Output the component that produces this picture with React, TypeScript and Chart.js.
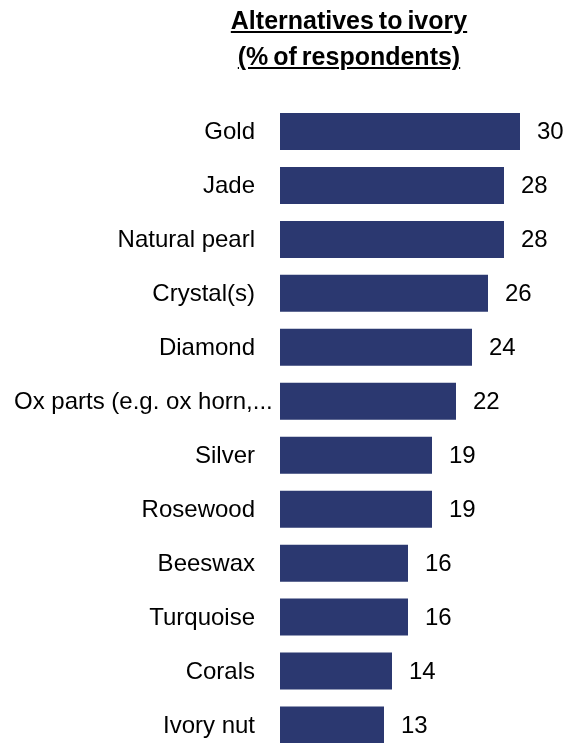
import React, { useEffect, useRef } from "react";
import { Chart, registerables } from "chart.js";

Chart.register(...registerables);

const titleLines = ["Alternatives to ivory", "(% of respondents)"];
const categories = [
  "Gold",
  "Jade",
  "Natural pearl",
  "Crystal(s)",
  "Diamond",
  "Ox parts (e.g. ox horn,...",
  "Silver",
  "Rosewood",
  "Beeswax",
  "Turquoise",
  "Corals",
  "Ivory nut",
];
const values = [30, 28, 28, 26, 24, 22, 19, 19, 16, 16, 14, 13];

const BAR_COLOR = "#2B3870";
const FONT = "'Liberation Sans', Arial, sans-serif";

// Category labels: right-aligned next to the axis; labels too long for the
// label column start at the column's left edge (Excel-style overflow).
const categoryLabelPlugin = {
  id: "categoryLabels",
  afterDraw(chart: any) {
    const ctx = chart.ctx;
    const yScale = chart.scales.y;
    const gap = 25;
    const colLeft = 14;
    const rightEdge = chart.chartArea.left - gap;
    ctx.save();
    ctx.font = `24px ${FONT}`;
    ctx.fillStyle = "#000000";
    ctx.textBaseline = "middle";
    categories.forEach((label, i) => {
      const y = yScale.getPixelForValue(i) + 1;
      const w = ctx.measureText(label).width;
      if (w > rightEdge - colLeft) {
        ctx.textAlign = "left";
        ctx.fillText(label, colLeft, y);
      } else {
        ctx.textAlign = "right";
        ctx.fillText(label, rightEdge, y);
      }
    });
    ctx.restore();
  },
};

const valueLabelPlugin = {
  id: "valueLabels",
  afterDatasetsDraw(chart: any) {
    const ctx = chart.ctx;
    const meta = chart.getDatasetMeta(0);
    ctx.save();
    ctx.font = `24px ${FONT}`;
    ctx.fillStyle = "#000000";
    ctx.textAlign = "left";
    ctx.textBaseline = "middle";
    meta.data.forEach((bar: any, i: number) => {
      ctx.fillText(String(values[i]), bar.x + 17, bar.y + 1);
    });
    ctx.restore();
  },
};

export default function App() {
  const canvasRef = useRef<HTMLCanvasElement | null>(null);

  useEffect(() => {
    if (!canvasRef.current) return;
    const chart = new Chart(canvasRef.current, {
      type: "bar",
      data: {
        labels: categories,
        datasets: [
          {
            data: values,
            backgroundColor: BAR_COLOR,
            borderWidth: 0,
            barPercentage: 0.685,
            categoryPercentage: 1,
          },
        ],
      },
      options: {
        indexAxis: "y",
        animation: false,
        responsive: false,
        maintainAspectRatio: false,
        layout: { padding: { top: 104.5, bottom: 40, left: 0, right: 2 } },
        plugins: {
          legend: { display: false },
          title: { display: false },
          tooltip: { enabled: false },
        },
        scales: {
          x: {
            display: false,
            min: 0,
            max: 36,
          },
          y: {
            grid: { display: false, drawTicks: false },
            border: { display: false },
            afterFit: (s: any) => {
              s.width = 280;
            },
            ticks: { display: false },
          },
        },
      },
      plugins: [valueLabelPlugin, categoryLabelPlugin],
    });
    return () => chart.destroy();
  }, []);

  return (
    <div
      style={{
        position: "fixed",
        left: 0,
        top: 0,
        width: 570,
        height: 743,
        overflow: "hidden",
        background: "#ffffff",
      }}
    >
      <canvas
        ref={canvasRef}
        width={570}
        height={792}
        style={{ position: "absolute", left: 0, top: 0, width: 570, height: 792 }}
      />
      <div
        style={{
          position: "absolute",
          left: 199,
          top: 2,
          width: 300,
          textAlign: "center",
          fontFamily: FONT,
          fontWeight: "bold",
          fontSize: 25,
          lineHeight: "36px",
          color: "#000000",
          textDecoration: "underline",
          wordSpacing: -2,
        }}
      >
        {titleLines.map((t) => (
          <div key={t}>{t}</div>
        ))}
      </div>
    </div>
  );
}
